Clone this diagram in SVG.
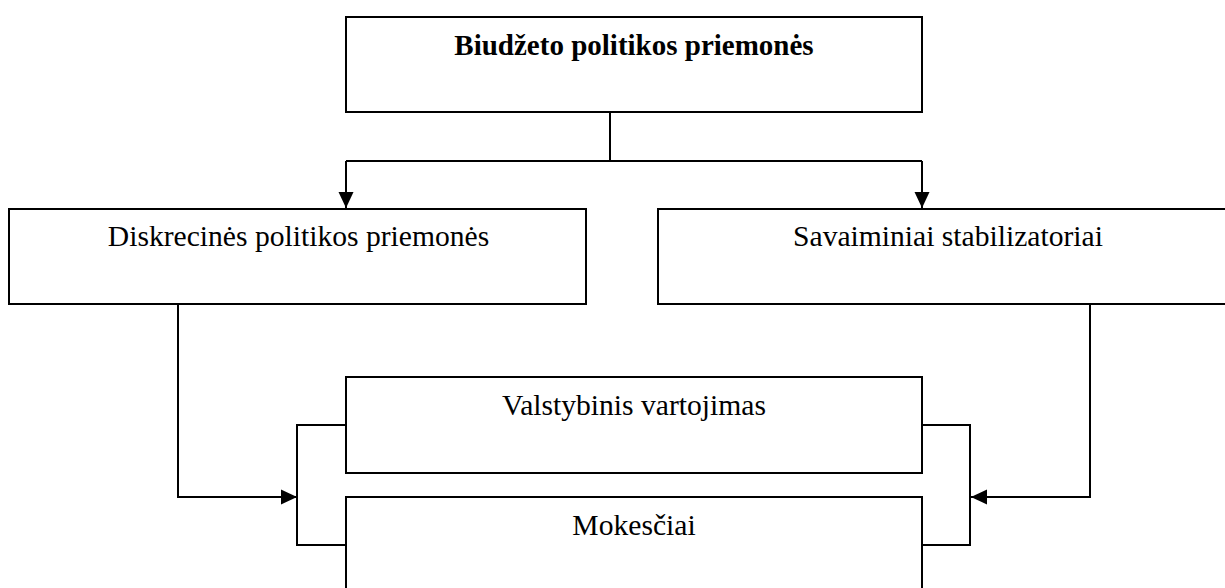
<svg xmlns="http://www.w3.org/2000/svg" width="1225" height="588" viewBox="0 0 1225 588">
<style>
.box{fill:#fff;stroke:#000;stroke-width:2}
.t{font-family:"Liberation Serif","Times New Roman",serif;font-size:29.6px;fill:#000;text-anchor:middle}
.b{font-weight:bold;font-size:29px}
.c{fill:none;stroke:#000;stroke-width:2}
</style>
<defs>
<marker id="ah" markerUnits="userSpaceOnUse" markerWidth="16" markerHeight="16" refX="16" refY="7.5" orient="auto" viewBox="0 0 16 15">
<path d="M0,0 L16,7.5 L0,15 z" fill="#000"/>
</marker>
</defs>
<rect width="1225" height="588" fill="#fff"/>
<g id="connectors">
<path class="c" d="M610,112 V161"/>
<path class="c" d="M346,161 H922"/>
<path class="c" d="M346,161 V208" marker-end="url(#ah)"/>
<path class="c" d="M922,161 V208" marker-end="url(#ah)"/>
<path class="c" d="M178,304 V497 H297" marker-end="url(#ah)"/>
<path class="c" d="M1090,304 V497 H971" marker-end="url(#ah)"/>
<path class="c" d="M346,425 H297 V545 H346"/>
<path class="c" d="M922,425 H970 V545 H922"/>
</g>
<g id="node-biudzeto">
<rect class="box" x="346" y="17" width="576" height="95"/>
<text class="t b" x="634" y="55">Biudžeto politikos priemonės</text>
</g>
<g id="node-diskrecines">
<rect class="box" x="9" y="209" width="577" height="95"/>
<text class="t" x="298.5" y="246">Diskrecinės politikos priemonės</text>
</g>
<g id="node-savaiminiai">
<rect class="box" x="658" y="209" width="580" height="95"/>
<text class="t" x="948" y="246">Savaiminiai stabilizatoriai</text>
</g>
<g id="node-valstybinis">
<rect class="box" x="346" y="377" width="576" height="96"/>
<text class="t" x="634" y="415">Valstybinis vartojimas</text>
</g>
<g id="node-mokesciai">
<rect class="box" x="346" y="497" width="576" height="110"/>
<text class="t" x="634" y="535">Mokesčiai</text>
</g>
</svg>
